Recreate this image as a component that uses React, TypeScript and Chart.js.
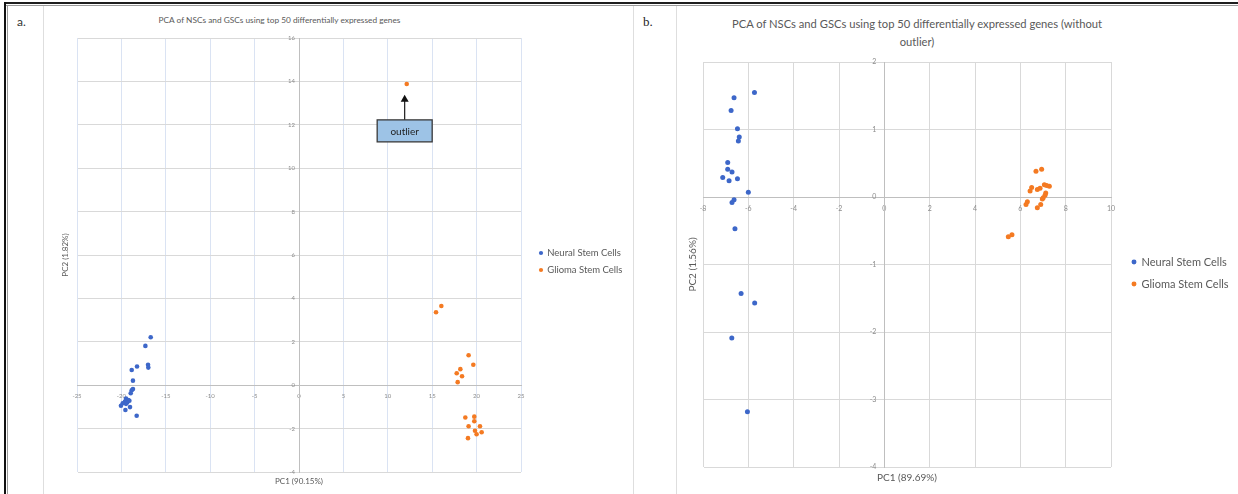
import React, { useEffect, useRef } from "react";
import { Chart, registerables } from "chart.js";

Chart.register(...registerables);

const FONT = "Lato, 'Open Sans', 'DejaVu Sans', sans-serif";

// ---------- Panel a data ----------
const seriesNames = ["Neural Stem Cells", "Glioma Stem Cells"];
const nscAX = [-16.7, -17.3, -17.0, -16.97, -18.24, -18.84, -18.7, -18.7, -18.84, -18.95, -19.48, -19.22, -19.6, -19.34, -19.1, -19.48, -19.85, -20.05, -19.03, -19.55, -18.28];
const nscAY = [2.21, 1.81, 0.94, 0.81, 0.86, 0.7, 0.21, -0.18, -0.23, -0.37, -0.62, -0.68, -0.75, -0.8, -0.72, -0.86, -0.83, -0.95, -1.01, -1.14, -1.41];
const gscAX = [12.13, 16.03, 15.43, 19.1, 19.63, 18.17, 17.76, 18.36, 17.87, 18.73, 19.74, 19.74, 19.1, 20.38, 19.82, 20.0, 20.57, 19.03];
const gscAY = [13.88, 3.65, 3.36, 1.38, 0.94, 0.74, 0.55, 0.41, 0.14, -1.49, -1.45, -1.66, -1.89, -1.89, -2.1, -2.26, -2.17, -2.44];
const xTicksA = [-25, -20, -15, -10, -5, 0, 5, 10, 15, 20, 25];
const yTicksA = [-4, -2, 0, 2, 4, 6, 8, 10, 12, 14, 16];
const titleA = "PCA of NSCs and GSCs using top 50 differentially expressed genes";
const xTitleA = "PC1 (90.15%)";
const yTitleA = "PC2 (1.82%)";
const outlierNote = { text: "outlier", boxX: 11.9, boxY: 11.72, tipY: 13.38 };

// ---------- Panel b data ----------
const nscBX = [-5.73, -6.63, -6.76, -6.48, -6.4, -6.44, -6.91, -6.91, -6.72, -7.13, -6.85, -6.48, -6.0, -6.63, -6.72, -6.59, -6.32, -5.72, -6.73, -6.04];
const nscBY = [1.55, 1.47, 1.28, 1.01, 0.89, 0.83, 0.51, 0.41, 0.37, 0.29, 0.24, 0.27, 0.07, -0.04, -0.08, -0.47, -1.43, -1.57, -2.09, -3.18];
const gscBX = [6.69, 6.94, 7.06, 7.28, 7.16, 6.5, 6.43, 6.75, 6.87, 7.12, 7.09, 7.01, 6.97, 6.31, 6.25, 6.9, 6.75, 5.63, 5.47];
const gscBY = [0.38, 0.41, 0.18, 0.16, 0.17, 0.14, 0.09, 0.11, 0.13, 0.06, 0.025, -0.01, -0.03, -0.07, -0.11, -0.11, -0.16, -0.56, -0.59];
const xTicksB = [-8, -6, -4, -2, 0, 2, 4, 6, 8, 10];
const yTicksB = [-4, -3, -2, -1, 0, 1, 2];
const titleB1 = "PCA of NSCs and GSCs using top 50 differentially expressed genes (without";
const titleB2 = "outlier)";
const xTitleB = "PC1 (89.69%)";
const yTitleB = "PC2 (1.56%)";

const BLUE = "#3d67c9";
const ORANGE = "#f47a22";
const TEXT = "#595959";
const TICK = "#8c8c8c";

const toPoints = (xs: number[], ys: number[]) => xs.map((x, i) => ({ x, y: ys[i] }));

const zeroPad = (s: any) => {
  s.paddingLeft = 0;
  s.paddingRight = 0;
  s.paddingTop = 0;
  s.paddingBottom = 0;
};

type Spec = {
  nsc: { x: number; y: number }[];
  gsc: { x: number; y: number }[];
  xTicks: number[];
  yTicks: number[];
  xTitle: string;
  yTitle: string;
  canvasW: number;
  plotRight: number;
  padLeft: number;
  padTop: number;
  ytWidth: number;
  ytPad: number;
  xtHeight: number;
  xtPad: number;
  axisTitleSize: number;
  spacer: number;
  legendBox: number;
  legendBoxH: number;
  legendPad: number;
  legendSize: number;
  legendTitlePad: number;
  tickSize: number;
  xTickPad: number;
  yTickPad: number;
  radius: number;
  xGrid: string;
  yGrid: string;
  plugins: any[];
};

const outlierPlugin = {
  id: "outlierNote",
  afterDatasetsDraw(chart: any) {
    const { ctx, scales } = chart;
    const cx = scales.x.getPixelForValue(outlierNote.boxX);
    const cy = scales.y.getPixelForValue(outlierNote.boxY);
    const tip = scales.y.getPixelForValue(outlierNote.tipY);
    const w = 55;
    const h = 22;
    ctx.save();
    ctx.strokeStyle = "#1a1a1a";
    ctx.lineWidth = 1.2;
    ctx.beginPath();
    ctx.moveTo(cx, cy - h / 2);
    ctx.lineTo(cx, tip + 5);
    ctx.stroke();
    ctx.fillStyle = "#111";
    ctx.beginPath();
    ctx.moveTo(cx, tip);
    ctx.lineTo(cx - 4, tip + 7);
    ctx.lineTo(cx + 4, tip + 7);
    ctx.closePath();
    ctx.fill();
    ctx.fillStyle = "#9dc3e6";
    ctx.fillRect(cx - w / 2, cy - h / 2, w, h);
    ctx.strokeStyle = "#3a3a3a";
    ctx.lineWidth = 1.3;
    ctx.strokeRect(cx - w / 2, cy - h / 2, w, h);
    ctx.fillStyle = "#1f1f1f";
    ctx.font = `10px ${FONT}`;
    ctx.textAlign = "center";
    ctx.textBaseline = "middle";
    ctx.fillText(outlierNote.text, cx, cy + 0.5);
    ctx.restore();
  },
};

// moves the y axis (labels + axis line) onto x = 0, labels left of it
const yAxisAtZero = {
  id: "yAxisAtZero",
  afterLayout(chart: any) {
    const y = chart.scales.y;
    const px = chart.scales.x.getPixelForValue(0);
    y.left = px - 40;
    y.right = px;
    y.width = 40;
  },
};

function legendWidth(s: Spec) {
  const c = document.createElement("canvas").getContext("2d");
  let tw = 90;
  if (c) {
    c.font = `normal ${s.legendSize}px ${FONT}`;
    tw = Math.max(...seriesNames.map((n) => c.measureText(n).width));
  }
  return s.legendPad + s.legendBox + s.legendSize / 2 + tw + 10;
}

function makeConfig(s: Spec): any {
  const tickFont = { size: s.tickSize, family: FONT };
  const titleFont = { size: s.axisTitleSize, family: FONT };
  const padRight = s.canvasW - s.plotRight - s.spacer - legendWidth(s);
  return {
    type: "scatter",
    data: {
      datasets: [
        {
          label: seriesNames[0],
          data: s.nsc,
          backgroundColor: BLUE,
          borderColor: BLUE,
          borderWidth: 0,
          pointRadius: s.radius,
          pointStyle: "circle",
          xAxisID: "x",
          yAxisID: "y",
        },
        {
          label: seriesNames[1],
          data: s.gsc,
          backgroundColor: ORANGE,
          borderColor: ORANGE,
          borderWidth: 0,
          pointRadius: s.radius,
          pointStyle: "circle",
          xAxisID: "x",
          yAxisID: "y",
        },
      ],
    },
    options: {
      responsive: false,
      animation: false,
      devicePixelRatio: 1,
      events: [],
      layout: { padding: { left: s.padLeft, right: padRight, top: s.padTop, bottom: 0 } },
      scales: {
        x: {
          type: "linear",
          position: { y: 0 },
          min: s.xTicks[0],
          max: s.xTicks[s.xTicks.length - 1],
          afterBuildTicks: (sc: any) => {
            sc.ticks = s.xTicks.map((v) => ({ value: v }));
          },
          ticks: { font: tickFont, color: TICK, padding: s.xTickPad, autoSkip: false, maxRotation: 0 },
          grid: {
            drawTicks: false,
            color: (c: any) => (c.tick && c.tick.value === 0 ? "#c6c6c6" : s.xGrid),
            lineWidth: 1,
          },
          border: { display: true, color: "#bfbfbf", width: 1 },
          afterFit: (sc: any) => {
            sc.height = 0;
            zeroPad(sc);
          },
        },
        y: {
          type: "linear",
          position: "left",
          min: s.yTicks[0],
          max: s.yTicks[s.yTicks.length - 1],
          afterBuildTicks: (sc: any) => {
            sc.ticks = s.yTicks.map((v) => ({ value: v }));
          },
          ticks: { font: tickFont, color: TICK, padding: s.yTickPad, autoSkip: false },
          grid: {
            drawTicks: false,
            color: (c: any) => (c.tick && c.tick.value === 0 ? "#c6c6c6" : s.yGrid),
            lineWidth: 1,
          },
          border: { display: true, color: "#bfbfbf", width: 1 },
          afterFit: (sc: any) => {
            sc.width = 0;
            zeroPad(sc);
          },
        },
        yt: {
          type: "linear",
          axis: "y",
          position: "left",
          ticks: { display: false },
          grid: { display: false },
          border: { display: false },
          title: {
            display: true,
            text: s.yTitle,
            color: TEXT,
            font: titleFont,
            padding: { top: s.ytPad, bottom: 0 },
          },
          afterFit: (sc: any) => {
            sc.width = s.ytWidth;
            zeroPad(sc);
          },
        },
        xt: {
          type: "linear",
          axis: "x",
          position: "bottom",
          ticks: { display: false },
          grid: { display: false },
          border: { display: false },
          title: {
            display: true,
            text: s.xTitle,
            color: TEXT,
            font: titleFont,
            padding: { top: 0, bottom: s.xtPad },
          },
          afterFit: (sc: any) => {
            sc.height = s.xtHeight;
            zeroPad(sc);
          },
        },
        ys: {
          type: "linear",
          axis: "y",
          position: "right",
          ticks: { display: false },
          grid: { display: false },
          border: { display: false },
          afterFit: (sc: any) => {
            sc.width = s.spacer;
            zeroPad(sc);
          },
        },
      },
      plugins: {
        title: { display: false },
        tooltip: { enabled: false },
        legend: {
          display: true,
          position: "right",
          align: "center",
          fullSize: false,
          maxWidth: 400,
          title: { display: true, text: "", font: { size: 5 }, padding: s.legendTitlePad },
          labels: {
            usePointStyle: true,
            pointStyle: "circle",
            boxWidth: s.legendBox,
            boxHeight: s.legendBoxH,
            padding: s.legendPad,
            color: TEXT,
            font: { size: s.legendSize, family: FONT },
          },
        },
      },
    },
    plugins: [yAxisAtZero, ...s.plugins],
  };
}

const specA: Spec = {
  nsc: toPoints(nscAX, nscAY),
  gsc: toPoints(gscAX, gscAY),
  xTicks: xTicksA,
  yTicks: yTicksA,
  xTitle: xTitleA,
  yTitle: yTitleA,
  canvasW: 590,
  plotRight: 478,
  padLeft: 12,
  padTop: 35,
  ytWidth: 22,
  ytPad: 5.2,
  xtHeight: 22,
  xtPad: 8.2,
  axisTitleSize: 8,
  spacer: 11,
  legendBox: 3,
  legendBoxH: 3,
  legendPad: 7.5,
  legendSize: 9.5,
  legendTitlePad: 3.5,
  tickSize: 6,
  xTickPad: 7,
  yTickPad: 4,
  radius: 2.3,
  xGrid: "#dae3f3",
  yGrid: "#d9d9d9",
  plugins: [outlierPlugin],
};

const specB: Spec = {
  nsc: toPoints(nscBX, nscBY),
  gsc: toPoints(gscBX, gscBY),
  xTicks: xTicksB,
  yTicks: yTicksB,
  xTitle: xTitleB,
  yTitle: yTitleB,
  canvasW: 562,
  plotRight: 435,
  padLeft: 4,
  padTop: 59,
  ytWidth: 23,
  ytPad: 7,
  xtHeight: 27,
  xtPad: 10,
  axisTitleSize: 10,
  spacer: 10,
  legendBox: 4,
  legendBoxH: 3.5,
  legendPad: 11,
  legendSize: 11,
  legendTitlePad: 5.5,
  tickSize: 7,
  xTickPad: 8,
  yTickPad: 8,
  radius: 2.5,
  xGrid: "#d9d9d9",
  yGrid: "#d9d9d9",
  plugins: [],
};

function ChartCanvas({ spec, left, top, width, height }: { spec: Spec; left: number; top: number; width: number; height: number }) {
  const ref = useRef<HTMLCanvasElement | null>(null);
  useEffect(() => {
    if (!ref.current) return;
    const chart = new Chart(ref.current, makeConfig(spec));
    return () => chart.destroy();
  }, [spec]);
  return (
    <canvas
      ref={ref}
      width={width}
      height={height}
      style={{ position: "absolute", left, top, width, height }}
    />
  );
}

const abs = (o: React.CSSProperties): React.CSSProperties => ({ position: "absolute", ...o });

export default function App() {
  return (
    <div
      style={{
        position: "fixed",
        left: 0,
        top: 0,
        width: 1238,
        height: 494,
        background: "#ffffff",
        overflow: "hidden",
        fontFamily: FONT,
      }}
    >
      {/* frame lines */}
      <div style={abs({ left: 4, top: 2, width: 1234, height: 2, background: "#1e1e1e" })} />
      <div style={abs({ left: 4, top: 5, width: 1234, height: 1, background: "#9a9a9a" })} />
      <div style={abs({ left: 4, top: 2, width: 2, height: 492, background: "#111" })} />
      <div style={abs({ left: 7, top: 5, width: 1, height: 489, background: "#9a9a9a" })} />
      <div style={abs({ left: 43, top: 6, width: 1, height: 488, background: "#dedede" })} />
      <div style={abs({ left: 633, top: 6, width: 1, height: 488, background: "#dedede" })} />
      <div style={abs({ left: 676, top: 6, width: 1, height: 488, background: "#dedede" })} />

      {/* panel labels */}
      <div style={abs({ left: 17, top: 14, fontSize: 12, lineHeight: "16px", color: "#333" })}>a.</div>
      <div
        style={abs({
          left: 643,
          top: 14,
          fontSize: 13,
          lineHeight: "16px",
          color: "#222",
          fontFamily: "'Liberation Serif', 'DejaVu Serif', serif",
        })}
      >
        b.
      </div>

      {/* titles */}
      <div
        style={abs({
          left: 279.5 - 250,
          width: 500,
          top: 14,
          textAlign: "center",
          fontSize: 8.3,
          lineHeight: "12px",
          color: TEXT,
          whiteSpace: "nowrap",
        })}
      >
        {titleA}
      </div>
      <div
        style={abs({
          left: 917 - 300,
          width: 600,
          top: 15,
          textAlign: "center",
          fontSize: 11.2,
          lineHeight: "18px",
          color: TEXT,
          whiteSpace: "nowrap",
        })}
      >
        {titleB1}
        <br />
        {titleB2}
      </div>

      <ChartCanvas spec={specA} left={43} top={3} width={590} height={491} />
      <ChartCanvas spec={specB} left={676} top={3} width={562} height={491} />
    </div>
  );
}
